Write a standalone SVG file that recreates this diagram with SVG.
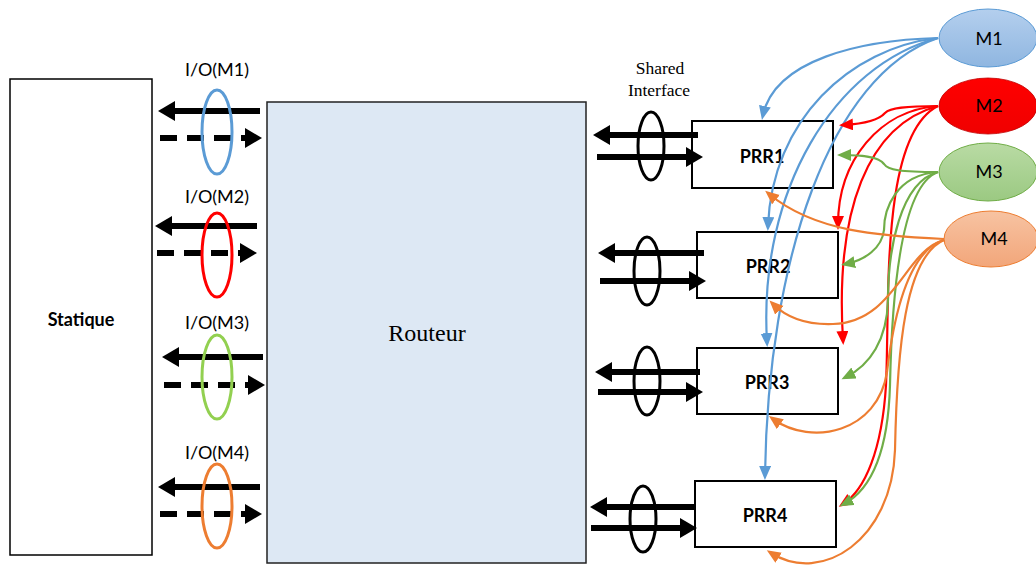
<svg xmlns="http://www.w3.org/2000/svg" width="1036" height="571" viewBox="0 0 1036 571">
<style>
.box{fill:#fff;stroke:#000;stroke-width:1.5}
.prr{fill:#fff;stroke:#000;stroke-width:2}
.lbl{font-family:Lato,"Liberation Sans",sans-serif;font-size:18px;fill:#000;text-anchor:middle}
.bold{font-family:Lato,"Liberation Sans",sans-serif;font-size:18px;font-weight:bold;fill:#000;text-anchor:middle}
.serif{font-family:"Liberation Serif",serif;fill:#000;text-anchor:middle}
.thick{stroke:#000;stroke-width:6;fill:none}
.dash{stroke:#000;stroke-width:6;fill:none;stroke-dasharray:17 10}
.ring{fill:none;stroke-width:3}
.c{fill:none;stroke-width:2.2}
.blue{stroke:#5b9bd5}.red{stroke:#ff0000}.green{stroke:#70ad47}.orange{stroke:#ed7d31}
</style>
<defs>
<marker id="bh" markerUnits="userSpaceOnUse" markerWidth="20" markerHeight="22" refX="4" refY="10" orient="auto"><path d="M0,0 L17,10 L0,20 z" fill="#000"/></marker>
<marker id="mb" markerUnits="userSpaceOnUse" markerWidth="16" markerHeight="14" refX="9" refY="6" orient="auto"><path d="M0,0 L14,6 L0,12 z" fill="#5b9bd5"/></marker>
<marker id="mr" markerUnits="userSpaceOnUse" markerWidth="16" markerHeight="14" refX="9" refY="6" orient="auto"><path d="M0,0 L14,6 L0,12 z" fill="#ff0000"/></marker>
<marker id="mg" markerUnits="userSpaceOnUse" markerWidth="16" markerHeight="14" refX="9" refY="6" orient="auto"><path d="M0,0 L14,6 L0,12 z" fill="#70ad47"/></marker>
<marker id="mo" markerUnits="userSpaceOnUse" markerWidth="16" markerHeight="14" refX="9" refY="6" orient="auto"><path d="M0,0 L14,6 L0,12 z" fill="#ed7d31"/></marker>
<linearGradient id="g1" x1="0" y1="0" x2="0" y2="1"><stop offset="0" stop-color="#b4cfee"/><stop offset="1" stop-color="#8fb6e0"/></linearGradient>
<linearGradient id="g2" x1="0" y1="0" x2="0" y2="1"><stop offset="0" stop-color="#ff0000"/><stop offset="1" stop-color="#f00000"/></linearGradient>
<linearGradient id="g3" x1="0" y1="0" x2="0" y2="1"><stop offset="0" stop-color="#b9dba4"/><stop offset="1" stop-color="#9bc982"/></linearGradient>
<linearGradient id="g4" x1="0" y1="0" x2="0" y2="1"><stop offset="0" stop-color="#f7c3a2"/><stop offset="1" stop-color="#f2a67a"/></linearGradient>
</defs>

<g id="statique">
<rect class="box" x="10" y="79" width="142" height="476"/>
<text class="bold" x="81" y="326" font-size="19">Statique</text>
</g>

<g id="routeur">
<rect x="267" y="102" width="319" height="461" fill="#dde8f4" stroke="#222" stroke-width="1.5"/>
<text class="serif" x="427" y="341" font-size="24">Routeur</text>
</g>

<g id="io-m1">
<text class="lbl" x="217" y="76">I/O(M1)</text>
<line class="thick" x1="260" y1="111" x2="171" y2="111" marker-end="url(#bh)"/>
<line class="dash" x1="160" y1="138" x2="249" y2="138" marker-end="url(#bh)"/>
<ellipse class="ring" cx="217" cy="132" rx="15" ry="42" stroke="#5b9bd5"/>
</g>
<g id="io-m2">
<text class="lbl" x="217" y="203">I/O(M2)</text>
<line class="thick" x1="257" y1="226" x2="168" y2="226" marker-end="url(#bh)"/>
<line class="dash" x1="157" y1="253" x2="244" y2="253" marker-end="url(#bh)"/>
<ellipse class="ring" cx="217" cy="255" rx="15" ry="42" stroke="#ff0000"/>
</g>
<g id="io-m3">
<text class="lbl" x="217" y="329">I/O(M3)</text>
<line class="thick" x1="263" y1="357" x2="175" y2="357" marker-end="url(#bh)"/>
<line class="dash" x1="164" y1="385" x2="252" y2="385" marker-end="url(#bh)"/>
<ellipse class="ring" cx="217" cy="377" rx="15" ry="42" stroke="#92d050"/>
</g>
<g id="io-m4">
<text class="lbl" x="217" y="459">I/O(M4)</text>
<line class="thick" x1="260" y1="487" x2="171" y2="487" marker-end="url(#bh)"/>
<line class="dash" x1="160" y1="514" x2="249" y2="514" marker-end="url(#bh)"/>
<ellipse class="ring" cx="217" cy="506" rx="15" ry="42" stroke="#ed7d31"/>
</g>

<g id="shared-interface">
<text class="serif" x="660" y="74" font-size="17.5">Shared</text>
<text class="serif" x="659" y="96" font-size="17.5">Interface</text>
</g>

<g id="prr1">
<rect class="prr" x="692" y="121" width="141" height="67"/>
<text class="bold" x="762" y="163">PRR1</text>
<line class="thick" x1="698" y1="135" x2="606" y2="135" marker-end="url(#bh)"/>
<line class="thick" x1="597" y1="157" x2="690" y2="157" marker-end="url(#bh)"/>
<ellipse class="ring" cx="651" cy="146" rx="13" ry="34" stroke="#000"/>
</g>
<g id="prr2">
<rect class="prr" x="697" y="232" width="141" height="66"/>
<text class="bold" x="768" y="273">PRR2</text>
<line class="thick" x1="704" y1="253" x2="611" y2="253" marker-end="url(#bh)"/>
<line class="thick" x1="600" y1="281" x2="693" y2="281" marker-end="url(#bh)"/>
<ellipse class="ring" cx="647" cy="271" rx="13" ry="34" stroke="#000"/>
</g>
<g id="prr3">
<rect class="prr" x="697" y="348" width="141" height="66"/>
<text class="bold" x="767" y="389">PRR3</text>
<line class="thick" x1="700" y1="372" x2="608" y2="372" marker-end="url(#bh)"/>
<line class="thick" x1="598" y1="392" x2="690" y2="392" marker-end="url(#bh)"/>
<ellipse class="ring" cx="647" cy="381" rx="13" ry="34" stroke="#000"/>
</g>
<g id="prr4">
<rect class="prr" x="695" y="481" width="141" height="66"/>
<text class="bold" x="765" y="522">PRR4</text>
<line class="thick" x1="695" y1="507" x2="603" y2="507" marker-end="url(#bh)"/>
<line class="thick" x1="591" y1="528" x2="684" y2="528" marker-end="url(#bh)"/>
<ellipse class="ring" cx="643" cy="519" rx="13" ry="33" stroke="#000"/>
</g>

<g id="m1">
<ellipse cx="988" cy="38" rx="49" ry="29" fill="url(#g1)" stroke="#5b9bd5" stroke-width="1"/>
<text class="lbl" x="989" y="45">M1</text>
</g>
<g id="m2">
<ellipse cx="988" cy="106" rx="49" ry="28" fill="url(#g2)" stroke="#c00000" stroke-width="0.8"/>
<text class="lbl" x="989" y="112">M2</text>
</g>
<g id="m3">
<ellipse cx="988" cy="172" rx="49" ry="29" fill="url(#g3)" stroke="#70ad47" stroke-width="1"/>
<text class="lbl" x="989" y="178">M3</text>
</g>
<g id="m4">
<ellipse cx="991" cy="239" rx="47" ry="28" fill="url(#g4)" stroke="#ed7d31" stroke-width="1"/>
<text class="lbl" x="994" y="245">M4</text>
</g>

<g id="connectors">
<path class="c blue" d="M938,38 C860,40 775,60 763,115" marker-end="url(#mb)"/>
<path class="c blue" d="M938,38 C850,48 772,120 768,226" marker-end="url(#mb)"/>
<path class="c blue" d="M938,38 C835,65 758,190 767,342" marker-end="url(#mb)"/>
<path class="c blue" d="M938,38 C830,75 768,260 765,475" marker-end="url(#mb)"/>

<path class="c red" d="M938,106 C905,106 890,108 885,113 C878,121 860,124 844,125" marker-end="url(#mr)"/>
<path class="c red" d="M938,106 C880,110 838,160 838,225" marker-end="url(#mr)"/>
<path class="c red" d="M938,106 C868,125 835,210 843,340" marker-end="url(#mr)"/>
<path class="c red" d="M938,106 C880,135 890,300 886,385 C882,450 865,490 843,504" marker-end="url(#mr)"/>

<path class="c green" d="M938,172 C900,172 888,170 884,164 C878,156 860,155 842,155" marker-end="url(#mg)"/>
<path class="c green" d="M938,172 C895,175 884,210 884,230 C882,248 865,260 846,264" marker-end="url(#mg)"/>
<path class="c green" d="M938,172 C900,182 888,250 888,300 C887,340 870,365 846,377" marker-end="url(#mg)"/>
<path class="c green" d="M938,172 C902,185 892,290 890,385 C888,455 870,490 844,504" marker-end="url(#mg)"/>

<path class="c orange" d="M944,239 C880,236 815,232 769,194" marker-end="url(#mo)"/>
<path class="c orange" d="M944,240 C905,250 895,322 833,324 C805,325 785,316 773,304" marker-end="url(#mo)"/>
<path class="c orange" d="M944,240 C905,252 892,330 887,372 C878,432 812,447 773,419" marker-end="url(#mo)"/>
<path class="c orange" d="M944,240 C905,257 897,350 895,450 C892,540 822,585 771,553" marker-end="url(#mo)"/>
</g>
</svg>
